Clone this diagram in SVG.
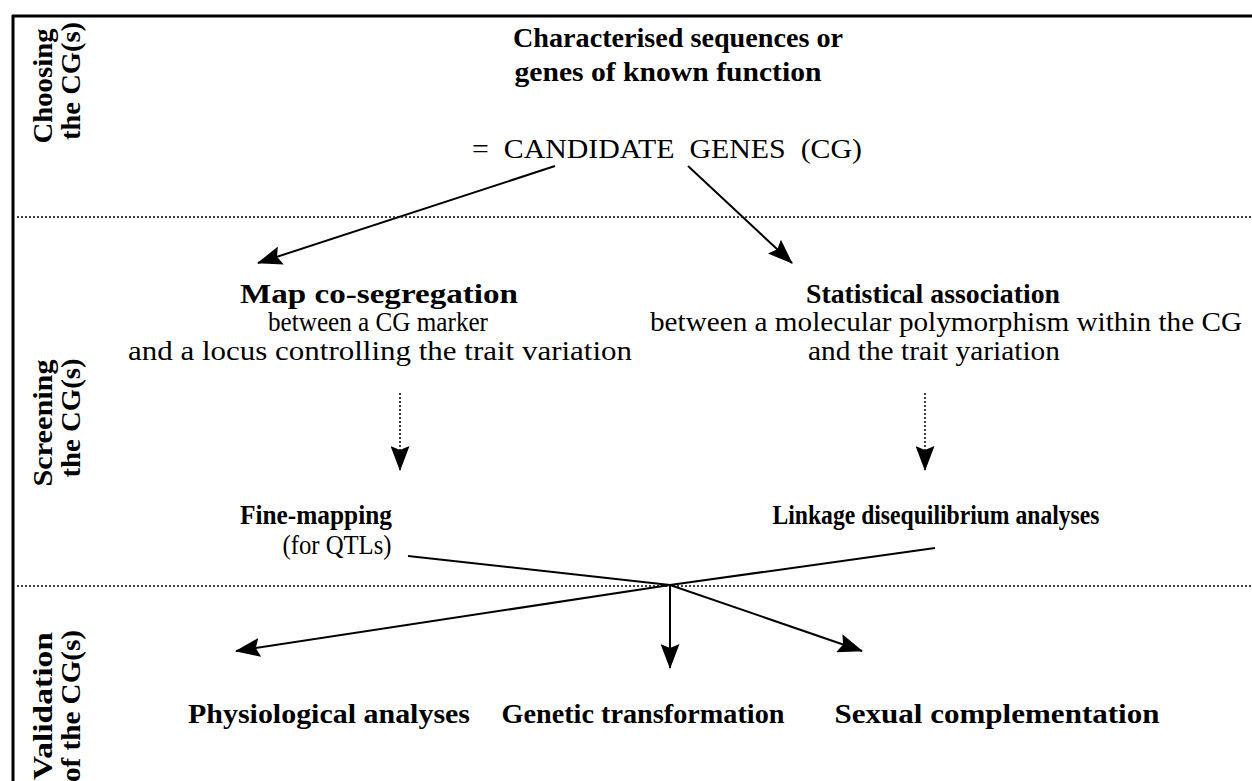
<svg xmlns="http://www.w3.org/2000/svg" width="1252" height="781" viewBox="0 0 1252 781">
<defs>
<style>
.b{font-family:"Liberation Serif","Times New Roman",serif;font-weight:bold;font-size:28px;fill:#000;text-anchor:middle}
.r{font-family:"Liberation Serif","Times New Roman",serif;font-size:28px;fill:#000;text-anchor:middle}
.ln{stroke:#000;stroke-width:2;fill:none}
.dot{stroke:#000;stroke-width:1.5;stroke-dasharray:2 2;fill:none}
</style>
<marker id="ah" viewBox="0 0 25 19" refX="24" refY="9.5" markerWidth="25" markerHeight="19" markerUnits="userSpaceOnUse" orient="auto">
<path d="M0,0 L25,9.5 L0,19 L4,9.5 Z" fill="#000"/>
</marker>
</defs>
<rect width="1252" height="781" fill="#fff"/>
<g id="frame">
<line x1="12" y1="16" x2="1252" y2="16" stroke="#000" stroke-width="3"/>
<line x1="13" y1="15" x2="13" y2="781" stroke="#000" stroke-width="3"/>
<line class="dot" x1="17" y1="217" x2="1252" y2="217"/>
<line class="dot" x1="17" y1="586" x2="1252" y2="586"/>
</g>
<g id="section-labels">
<text class="b" transform="translate(52,86) rotate(-90)" textLength="115" lengthAdjust="spacingAndGlyphs">Choosing</text>
<text class="b" transform="translate(80,81) rotate(-90)" textLength="118" lengthAdjust="spacingAndGlyphs">the CG(s)</text>
<text class="b" transform="translate(52,423) rotate(-90)" textLength="127" lengthAdjust="spacingAndGlyphs">Screening</text>
<text class="b" transform="translate(80,418) rotate(-90)" textLength="119" lengthAdjust="spacingAndGlyphs">the CG(s)</text>
<text class="b" transform="translate(52,706) rotate(-90)" textLength="148" lengthAdjust="spacingAndGlyphs">Validation</text>
<text class="b" transform="translate(80,706) rotate(-90)" textLength="152" lengthAdjust="spacingAndGlyphs">of the CG(s)</text>
</g>
<g id="candidate-genes">
<text class="b" x="678" y="47" textLength="330" lengthAdjust="spacingAndGlyphs">Characterised sequences or</text>
<text class="b" x="668" y="81" textLength="307" lengthAdjust="spacingAndGlyphs">genes of known function</text>
<text class="r" x="667" y="158" font-size="30" xml:space="preserve" textLength="390" lengthAdjust="spacingAndGlyphs">=  CANDIDATE  GENES  (CG)</text>
</g>
<g id="map-cosegregation">
<text class="b" x="379" y="303" font-size="30" textLength="278" lengthAdjust="spacingAndGlyphs">Map co-segregation</text>
<text class="r" x="378" y="331" textLength="220" lengthAdjust="spacingAndGlyphs">between a CG marker</text>
<text class="r" x="380" y="360" textLength="504" lengthAdjust="spacingAndGlyphs">and a locus controlling the trait variation</text>
</g>
<g id="statistical-association">
<text class="b" x="933" y="303" textLength="254" lengthAdjust="spacingAndGlyphs">Statistical association</text>
<text class="r" x="946" y="331" textLength="592" lengthAdjust="spacingAndGlyphs">between a molecular polymorphism within the CG</text>
<text class="r" x="934" y="360" textLength="252" lengthAdjust="spacingAndGlyphs">and the trait yariation</text>
</g>
<g id="fine-mapping">
<text class="b" x="316" y="524" font-size="30" textLength="152" lengthAdjust="spacingAndGlyphs">Fine-mapping</text>
<text class="r" x="337" y="554" textLength="109" lengthAdjust="spacingAndGlyphs">(for QTLs)</text>
</g>
<g id="linkage-disequilibrium">
<text class="b" x="936" y="524" font-size="30" textLength="327" lengthAdjust="spacingAndGlyphs">Linkage disequilibrium analyses</text>
</g>
<g id="physiological">
<text class="b" x="329" y="723" textLength="282" lengthAdjust="spacingAndGlyphs">Physiological analyses</text>
</g>
<g id="genetic-transformation">
<text class="b" x="643" y="723" textLength="283" lengthAdjust="spacingAndGlyphs">Genetic transformation</text>
</g>
<g id="sexual-complementation">
<text class="b" x="997" y="723" textLength="325" lengthAdjust="spacingAndGlyphs">Sexual complementation</text>
</g>
<g id="connectors">
<line class="ln" x1="555" y1="166" x2="258" y2="263" marker-end="url(#ah)"/>
<line class="ln" x1="688" y1="166" x2="792" y2="263" marker-end="url(#ah)"/>
<line class="dot" x1="400" y1="393" x2="400" y2="470" marker-end="url(#ah)"/>
<line class="dot" x1="925" y1="393" x2="925" y2="470" marker-end="url(#ah)"/>
<line class="ln" x1="408" y1="556" x2="670" y2="585"/>
<line class="ln" x1="935" y1="548" x2="670" y2="585"/>
<line class="ln" x1="670" y1="585" x2="236" y2="651" marker-end="url(#ah)"/>
<line class="ln" x1="670" y1="585" x2="670" y2="668" marker-end="url(#ah)"/>
<line class="ln" x1="670" y1="585" x2="862" y2="651" marker-end="url(#ah)"/>
</g>
</svg>
